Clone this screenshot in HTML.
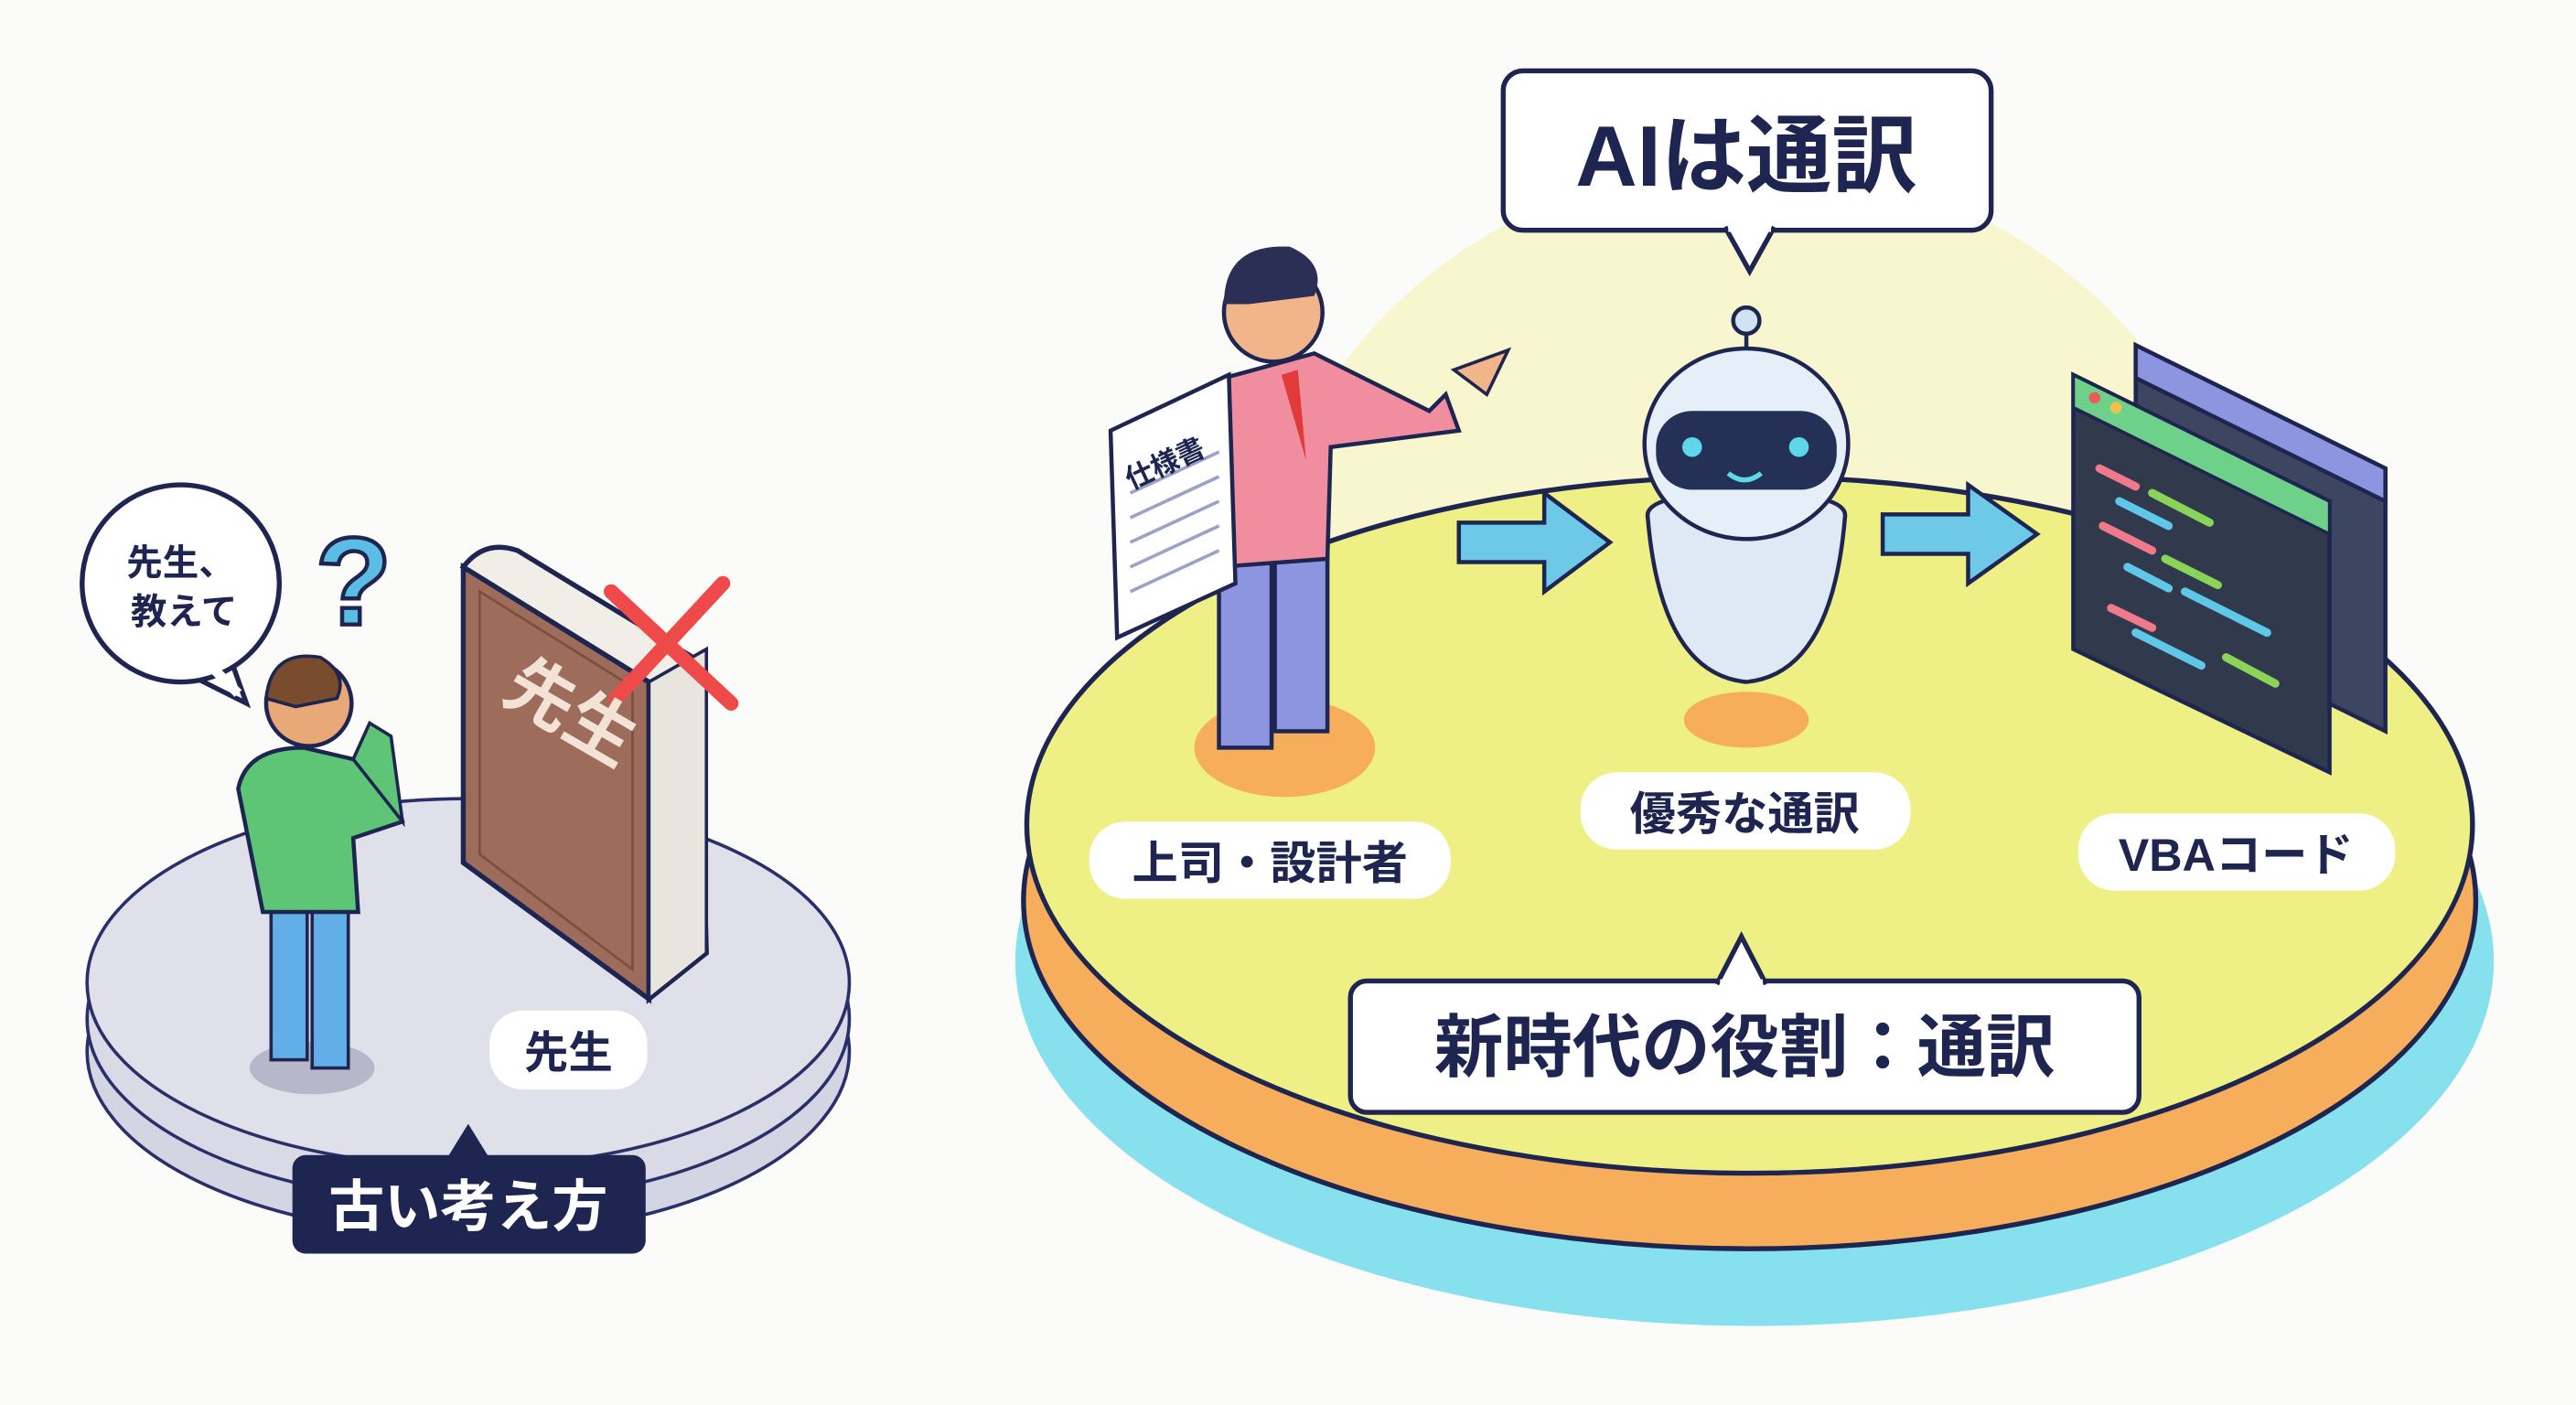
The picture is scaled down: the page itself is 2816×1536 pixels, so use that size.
<!DOCTYPE html>
<html><head><meta charset="utf-8"><style>
html,body{margin:0;padding:0;background:#fbfbfa;}
svg{display:block}
text{font-family:"Liberation Sans","Noto Sans CJK JP",sans-serif;font-weight:700;fill:#1d2550}
</style></head><body>
<svg width="2816" height="1536" viewBox="0 0 1568 855" xmlns="http://www.w3.org/2000/svg">
<rect width="1568" height="855" fill="#fbfbfa"/>
<ellipse cx="1065" cy="380" rx="300" ry="280" fill="#f7f6cf"/>
<ellipse cx="1068" cy="585" rx="450" ry="222" fill="#86e0ee"/>
<ellipse cx="1065" cy="548" rx="442" ry="212" fill="#f6ad5c" stroke="#1d2550" stroke-width="3"/>
<ellipse cx="1065" cy="502" rx="440" ry="212" fill="#eeef84" stroke="#1d2550" stroke-width="3"/>
<ellipse cx="285" cy="640" rx="232" ry="112" fill="#d4d5e2" stroke="#2a2f6a" stroke-width="2"/>
<ellipse cx="285" cy="620" rx="232" ry="112" fill="#d9dae6" stroke="#2a2f6a" stroke-width="2"/>
<ellipse cx="285" cy="598" rx="232" ry="112" fill="#dfe0ea" stroke="#2a2f6a" stroke-width="2"/>
<path d="M140 400 L150 428 L118 412 Z" fill="#fff" stroke="#1d2550" stroke-width="3"/>
<circle cx="110" cy="355" r="60" fill="#fff" stroke="#1d2550" stroke-width="3"/>
<path d="M128 405 L145 422" stroke="#fff" stroke-width="6"/>
<text x="110" y="350" font-size="22" text-anchor="middle">先生、</text>
<text x="112" y="380" font-size="22" text-anchor="middle">教えて</text>
<text x="192" y="380" font-size="76" style="fill:#5bbde3" stroke="#1d2550" stroke-width="2.5">?</text>
<ellipse cx="190" cy="650" rx="38" ry="16" fill="#b6b7c8"/>
<rect x="165" y="550" width="22" height="95" fill="#62aee6" stroke="#1d2550" stroke-width="2"/>
<rect x="190" y="550" width="22" height="100" fill="#62aee6" stroke="#1d2550" stroke-width="2"/>
<path d="M145 480 Q150 455 185 455 L215 462 Q240 480 245 500 L215 510 L218 555 L160 555 Z" fill="#5ec476" stroke="#1d2550" stroke-width="2.5"/>
<path d="M215 462 L225 440 L238 448 L245 500 Z" fill="#5ec476" stroke="#1d2550" stroke-width="2"/>
<circle cx="188" cy="428" r="26" fill="#e8a877" stroke="#1d2550" stroke-width="2.5"/>
<path d="M162 425 Q165 395 195 400 Q212 410 205 425 L180 430 Z" fill="#7a4c2e" stroke="#1d2550" stroke-width="2"/>
<path d="M282 345 L395 415 L395 608 L282 525 Z" fill="#9d6c5a" stroke="#1d2550" stroke-width="3"/>
<path d="M292 360 L385 418 L385 590 L292 520 Z" fill="none" stroke="#7c4f40" stroke-width="1.5"/>
<path d="M282 345 Q295 328 315 335 L425 402 L430 580 L395 608 L395 415 Z" fill="#f1eee8" stroke="#1d2550" stroke-width="3"/>
<path d="M395 415 L430 395 L430 580 L395 608 Z" fill="#e8e5df" stroke="#1d2550" stroke-width="2"/>
<path d="M372 360 L445 428 M440 355 L375 425" stroke="#ee4a4a" stroke-width="9" stroke-linecap="round"/>
<text x="300" y="440" font-size="42" style="fill:#f3e2d6" transform="rotate(30 330 440)">先生</text>
<rect x="298" y="615" width="96" height="48" rx="20" fill="#fff"/>
<text x="346" y="650" font-size="27" text-anchor="middle">先生</text>
<path d="M272 705 L285 684 L298 705 Z" fill="#1d2550"/>
<rect x="178" y="703" width="215" height="60" rx="8" fill="#1d2550"/>
<text x="285" y="746" font-size="34" text-anchor="middle" style="fill:#fff">古い考え方</text>
<ellipse cx="782" cy="455" rx="55" ry="30" fill="#f6ad5c"/>
<rect x="742" y="335" width="32" height="120" fill="#8e95e0" stroke="#1d2550" stroke-width="2.5"/>
<rect x="776" y="335" width="32" height="110" fill="#8e95e0" stroke="#1d2550" stroke-width="2.5"/>
<path d="M745 230 L800 215 L870 250 L880 240 L888 262 L810 272 L808 340 L742 345 Z" fill="#f08ea0" stroke="#1d2550" stroke-width="2.5"/>
<path d="M780 228 L795 280 L790 225 Z" fill="#e03a3a"/>
<circle cx="775" cy="190" r="30" fill="#f2b58a" stroke="#1d2550" stroke-width="2.5"/>
<path d="M745 185 Q745 148 785 150 Q808 160 800 180 L760 185 Z" fill="#2b2f55"/>
<path d="M885 225 L918 213 L905 240 Z" fill="#f2b58a" stroke="#1d2550" stroke-width="2"/>
<path d="M676 262 L748 228 L752 355 L680 388 Z" fill="#fff" stroke="#1d2550" stroke-width="2.5"/>
<g stroke="#9aa2c9" stroke-width="2"><path d="M688 300 L742 275 M688 315 L742 290 M688 330 L742 305 M688 345 L742 320 M688 360 L742 335"/></g>
<text x="684" y="292" font-size="17" transform="rotate(-25 700 285)">仕様書</text>
<path d="M888 318 L940 318 L940 300 L980 330 L940 360 L940 342 L888 342 Z" fill="#6ec9e8" stroke="#1d2550" stroke-width="2.5"/>
<path d="M1146 313 L1198 313 L1198 295 L1240 325 L1198 355 L1198 337 L1146 337 Z" fill="#6ec9e8" stroke="#1d2550" stroke-width="2.5"/>
<ellipse cx="1063" cy="438" rx="38" ry="17" fill="#f6ad5c"/>
<line x1="1063" y1="200" x2="1063" y2="215" stroke="#1d2550" stroke-width="2.5"/>
<circle cx="1063" cy="195" r="8" fill="#cfe3f5" stroke="#1d2550" stroke-width="2.5"/>
<path d="M1003 315 Q1000 300 1063 300 Q1126 300 1123 315 Q1115 410 1063 415 Q1011 410 1003 315 Z" fill="#dfe9f6" stroke="#1d2550" stroke-width="2.5"/>
<ellipse cx="1063" cy="270" rx="62" ry="58" fill="#e6eef8" stroke="#1d2550" stroke-width="2.5"/>
<rect x="1008" y="250" width="110" height="48" rx="22" fill="#243055"/>
<circle cx="1030" cy="272" r="6" fill="#5fd7ea"/><circle cx="1095" cy="272" r="6" fill="#5fd7ea"/>
<path d="M1052 288 Q1062 296 1072 288" stroke="#5fd7ea" stroke-width="3" fill="none"/>
<!-- back window -->
<path d="M1300 210 L1452 285 L1452 445 L1300 370 Z" fill="#3c4660" stroke="#1d2550" stroke-width="2.5"/>
<path d="M1300 210 L1452 285 L1452 305 L1300 230 Z" fill="#8e95e0" stroke="#1d2550" stroke-width="2.5"/>
<!-- front window -->
<path d="M1262 228 L1418 305 L1418 470 L1262 395 Z" fill="#303a4c" stroke="#1d2550" stroke-width="2.5"/>
<path d="M1262 228 L1418 305 L1418 325 L1262 248 Z" fill="#6dd18a" stroke="#1d2550" stroke-width="2"/>
<circle cx="1275" cy="242" r="3.5" fill="#ee5a5a"/><circle cx="1288" cy="248" r="3.5" fill="#f4c04a"/><circle cx="1301" cy="254" r="3.5" fill="#6dd18a"/>
<g stroke-width="5" stroke-linecap="round">
<path d="M1278 285 L1300 296" stroke="#f07a8a"/><path d="M1310 300 L1345 318" stroke="#8bd45a"/>
<path d="M1290 305 L1320 320" stroke="#5fc7e8"/><path d="M1280 320 L1310 335" stroke="#f07a8a"/>
<path d="M1318 340 L1350 356" stroke="#8bd45a"/><path d="M1295 345 L1320 358" stroke="#5fc7e8"/>
<path d="M1330 360 L1380 385" stroke="#5fc7e8"/><path d="M1285 370 L1310 382" stroke="#f07a8a"/>
<path d="M1355 400 L1385 416" stroke="#8bd45a"/><path d="M1300 385 L1340 405" stroke="#5fc7e8"/>
</g>
<rect x="663" y="500" width="220" height="47" rx="22" fill="#fff"/>
<text x="773" y="535" font-size="28" text-anchor="middle">上司・設計者</text>
<rect x="962" y="470" width="201" height="47" rx="22" fill="#fff"/>
<text x="1062" y="505" font-size="28" text-anchor="middle">優秀な通訳</text>
<rect x="1265" y="495" width="193" height="47" rx="22" fill="#fff"/>
<text x="1361" y="530" font-size="28" text-anchor="middle">VBAコード</text>
<rect x="915" y="43" width="297" height="97" rx="12" fill="#fff" stroke="#1d2550" stroke-width="3"/>
<path d="M1050 138 L1065 165 L1080 138" fill="#fff" stroke="#1d2550" stroke-width="3"/>
<path d="M1052 139 L1078 139" stroke="#fff" stroke-width="4"/>
<text x="1063" y="113" font-size="52" text-anchor="middle">AIは通訳</text>
<rect x="822" y="597" width="480" height="80" rx="10" fill="#fff" stroke="#1d2550" stroke-width="3"/>
<path d="M1045 599 L1060 570 L1075 599" fill="#fff" stroke="#1d2550" stroke-width="3"/>
<path d="M1047 598 L1073 598" stroke="#fff" stroke-width="4"/>
<text x="1062" y="652" font-size="42" text-anchor="middle">新時代の役割：通訳</text>
</svg>
</body></html>
